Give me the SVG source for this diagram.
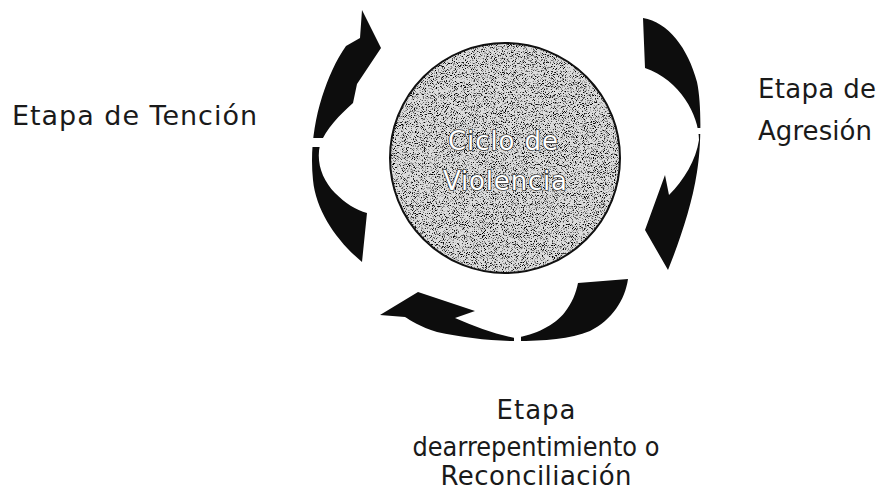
<svg xmlns="http://www.w3.org/2000/svg" width="890" height="492" viewBox="0 0 890 492">
  <defs>
    <filter id="speckle" x="0" y="0" width="100%" height="100%">
      <feTurbulence type="fractalNoise" baseFrequency="1.1" numOctaves="2" seed="7" result="t"/>
      <feColorMatrix in="t" type="matrix" values="0 0 0 0 0  0 0 0 0 0  0 0 0 0 0  -5 0 0 0 2.4" result="dots"/>
      <feComposite in="dots" in2="SourceAlpha" operator="in"/>
    </filter>
  </defs>
  <style>
    .lbl { font-family: "DejaVu Sans", "Liberation Sans", sans-serif; font-size: 26px; fill: #1a1a1a; }
    .ctr { text-anchor: middle; }
    .inner { font-family: "DejaVu Sans", "Liberation Sans", sans-serif; font-size: 26px; fill: #ffffff; stroke: #3a3a3a; stroke-width: 1.6; paint-order: stroke; text-anchor: middle; }
    .arrow { fill: #0d0d0d; }
    .gap { fill: #ffffff; }
  </style>
  <rect width="890" height="492" fill="#ffffff"/>

  <g id="connectors">
    <g id="arrow-tension">
      <path class="arrow" d="M362,10 L381,48 L357,84 L353,103 C340,115 326,128 320,145 C316,162 322,180 335,193 C345,203 356,210 367,213 L362,262 C338,242 316,212 313,180 C310,152 314,122 322,97 C328,78 336,60 346,46 L360,38 Z"/>
      <rect class="gap" x="300" y="138" width="40" height="9"/>
    </g>
    <g id="arrow-agresion">
      <path class="arrow" d="M643,18 C668,22 688,48 697,82 C702,105 701,150 697,172 C692,205 680,240 668,270 L645,230 L665,175 L669,195 C684,180 696,160 699,140 C699,115 680,80 645,68 Z"/>
      <rect class="gap" x="690" y="128" width="20" height="6"/>
    </g>
    <g id="arrow-reconciliacion">
      <path class="arrow" d="M578,283 L628,279 C625,300 612,320 590,331 C570,339 545,341 515,341 C490,341 460,337 437,332 C420,327 410,320 405,317 L380,315 L418,292 L475,311 L455,318 C475,327 495,334 515,338 C535,335 555,325 565,312 C572,303 576,293 578,283 Z"/>
      <rect class="gap" x="514" y="328" width="7" height="18"/>
    </g>
  </g>

  <g id="node-ciclo">
    <circle cx="505" cy="158" r="115" fill="#dcdcdc"/>
    <circle cx="505" cy="158" r="115" fill="#000" filter="url(#speckle)"/>
    <circle cx="505" cy="158" r="115" fill="none" stroke="#111" stroke-width="2"/>
    <text class="inner" x="503" y="150" textLength="110">Ciclo de</text>
    <text class="inner" x="505" y="190" textLength="124">Violencia</text>
  </g>

  <g id="node-tencion">
    <text class="lbl" x="12" y="125" textLength="245" style="font-size:27px">Etapa de Tención</text>
  </g>

  <g id="node-agresion">
    <text class="lbl" x="758" y="98" textLength="118">Etapa de</text>
    <text class="lbl" x="758" y="140" textLength="114">Agresión</text>
  </g>

  <g id="node-reconciliacion">
    <text class="lbl ctr" x="536" y="419" textLength="79">Etapa</text>
    <text class="lbl ctr" x="536" y="456" textLength="247" lengthAdjust="spacingAndGlyphs">dearrepentimiento o</text>
    <text class="lbl ctr" x="536" y="485" textLength="191">Reconciliación</text>
  </g>
</svg>
